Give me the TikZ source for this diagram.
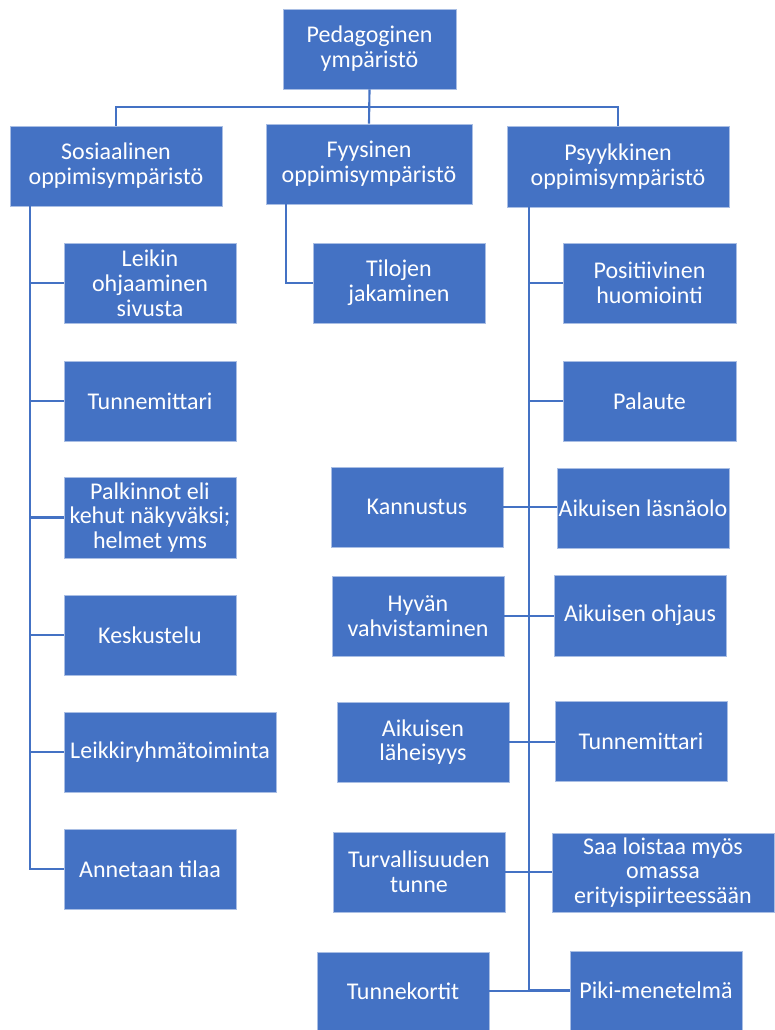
\documentclass[tikz,border=0pt]{standalone}
\usepackage{fontspec}
\setmainfont{Carlito}
\definecolor{blu}{HTML}{4472C4}
\definecolor{blulight}{HTML}{A9BEE4}
\begin{document}
\begin{tikzpicture}[x=0.75pt,y=-0.75pt,
  box/.style={rectangle, fill=blu, draw=blulight, line width=0.5pt, text=white,
    align=center, inner sep=0pt, font=\fontsize{18}{18.6}\selectfont},
  conn/.style={draw=blu, line width=1.6pt}]
\newcommand{\bx}[6]{\node[box, minimum width={(#4-#2)*0.75pt}, minimum height={(#5-#3)*0.75pt}] (#1) at ({(#2+#4)/2},{(#3+#5)/2}) {#6};}
\useasboundingbox (0,0) rectangle (774,1030);
% top
\bx{ped}{283}{9}{456}{89}{Pedagoginen\\ympäristö}
\bx{sos}{10}{126}{222}{206}{Sosiaalinen\\oppimisympäristö}
\bx{fyy}{266}{124}{472}{204}{Fyysinen\\oppimisympäristö}
\bx{psy}{507}{126}{729}{207}{Psyykkinen\\oppimisympäristö}
% left column
\bx{leik}{64}{243}{236}{323}{Leikin\\ohjaaminen\\sivusta}
\bx{tun1}{64}{361}{236}{441}{Tunnemittari}
\bx{palk}{64}{477}{236}{558}{Palkinnot eli\\kehut näkyväksi;\\helmet yms}
\bx{kesk}{64}{595}{236}{675}{Keskustelu}
\bx{leikr}{64}{712}{276}{792}{Leikkiryhmätoiminta}
\bx{anne}{64}{829}{236}{909}{Annetaan tilaa}
% middle
\bx{tilo}{313}{243}{485}{323}{Tilojen\\jakaminen}
% right
\bx{posi}{563}{243}{736}{323}{Positiivinen\\huomiointi}
\bx{pala}{563}{361}{736}{441}{Palaute}
\bx{kann}{331}{467}{503}{547}{Kannustus}
\bx{lasna}{557}{468}{729}{548}{Aikuisen läsnäolo}
\bx{hyva}{332}{576}{504}{656}{Hyvän\\vahvistaminen}
\bx{ohja}{554}{575}{726}{656}{Aikuisen ohjaus}
\bx{lahe}{337}{702}{509}{782}{Aikuisen\\läheisyys}
\bx{tun2}{555}{701}{727}{781}{Tunnemittari}
\bx{turv}{333}{832}{505}{912}{Turvallisuuden\\tunne}
\bx{saa}{552}{833}{774}{912}{Saa loistaa myös\\omassa\\erityispiirteessään}
\bx{kort}{317}{952}{489}{1030}{Tunnekortit}
\bx{piki}{570}{951}{742}{1030}{Piki-menetelmä}
% connectors
\coordinate (bus) at (368,107);
\draw[conn] (ped.south) -- (fyy.north);
\draw[conn] (sos.north) |- (bus) -| (psy.north);
\coordinate (s0) at (30,206);
\foreach \c in {leik,tun1,palk,kesk,leikr,anne} \draw[conn] (s0) |- (\c.west);
\coordinate (f0) at (286,204);
\draw[conn] (f0) |- (tilo.west);
\coordinate (p0) at (529,207);
\draw[conn] (p0) |- (piki.west);
\foreach \c in {posi,pala} \draw[conn] (p0) |- (\c.west);
\foreach \a/\b in {kann/lasna,hyva/ohja,lahe/tun2,turv/saa,kort/piki}
  \draw[conn] (\a.east) -- (\a.east -| \b.west);
\end{tikzpicture}
\end{document}
